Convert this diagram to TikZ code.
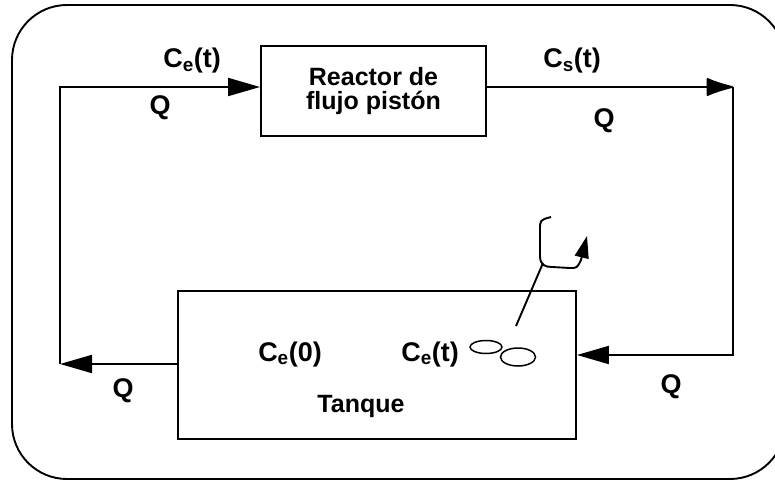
\documentclass[tikz,border=0pt]{standalone}
\usepackage{fontspec}
\setmainfont{Liberation Sans}
\usetikzlibrary{positioning, arrows.meta, calc}

\begin{document}
\begin{tikzpicture}[
	x=1pt, y=-1pt,
	% --- Styles ---
	procblock/.style={
		rectangle, draw, line width=1.9pt, align=center, inner sep=0pt,
		font=\bfseries\fontsize{25}{24}\selectfont
	},
	plain/.style={
		draw, line width=1.9pt
	},
	flow/.style={
		draw, line width=1.9pt, -{Triangle[length=32pt,width=18pt]}
	},
	blobflow/.style={
		draw, line width=1.9pt, -{Latex[round,length=30pt,width=19pt]}
	},
	varlabel/.style={
		font=\bfseries\fontsize{27}{28}\selectfont, anchor=base, inner sep=0pt
	}
	]
	\useasboundingbox (0,0) rectangle (775,481);
	
	% --- Outer frame ---
	\draw [plain, rounded corners=55pt] (12,5) rectangle (785,479);
	
	% --- 1. Blocks ---
	\node [procblock, minimum width=225pt, minimum height=90pt] (reactor) at (373.5,91) {Reactor de\\flujo pistón};
	\node [procblock, minimum width=398pt, minimum height=148pt] (tanque) at (377,365) {};
	
	% --- 2. Loop corners ---
	\coordinate (tl) at (60,87);
	\coordinate (tr) at (733,87);
	\coordinate (br) at (733,355);
	\coordinate (bl) at (60,364);
	
	% --- 3. Connections ---
	\draw [flow] (tanque.west |- bl) -- (bl);
	\draw [flow] (bl) |- (reactor.west |- tl);
	\draw [blobflow] (reactor.east |- tr) -- (tr);
	\draw [flow] (tr) |- (tanque.east |- br);
	
	% --- 4. Labels on the lines ---
	\node [varlabel] (ce_in) at (192,68) {C\textsubscript{e}(t)};
	\node [varlabel] (q_in) at (160,115) {Q};
	\node [varlabel] (cs_out) at (572,68) {C\textsubscript{s}(t)};
	\node [varlabel] (q_out) at (604,128) {Q};
	\node [varlabel] (q_tank_out) at (123,397) {Q};
	\node [varlabel] (q_tank_in) at (671,393) {Q};
	
	% --- 5. Inside the tank ---
	\node [varlabel] (ce_zero) at (290,361) {C\textsubscript{e}(0)};
	\node [varlabel] (ce_tank) at (430,361) {C\textsubscript{e}(t)};
	\node [varlabel, font=\bfseries\fontsize{25}{25}\selectfont] (tank_name) at (361,412) {Tanque};
	
	% Stirrer blades
	\draw [line width=1.5pt] (486,347) ellipse [x radius=16, y radius=6.5];
	\draw [line width=1.5pt] (518,357) ellipse [x radius=17.5, y radius=9];
	
	% Stirrer shaft and rotation arrow
	\draw [plain] (516,326) -- (543,263);
	\draw [line width=1.9pt, -{Triangle[length=22pt,width=14pt]}]
		(551,217) .. controls (540,220) .. (540,230) -- (540,256)
		.. controls (540,265) and (545,267) .. (552,267) -- (570,268)
		.. controls (577,268) .. (581,260) -- (587,236);
	
\end{tikzpicture}
\end{document}
